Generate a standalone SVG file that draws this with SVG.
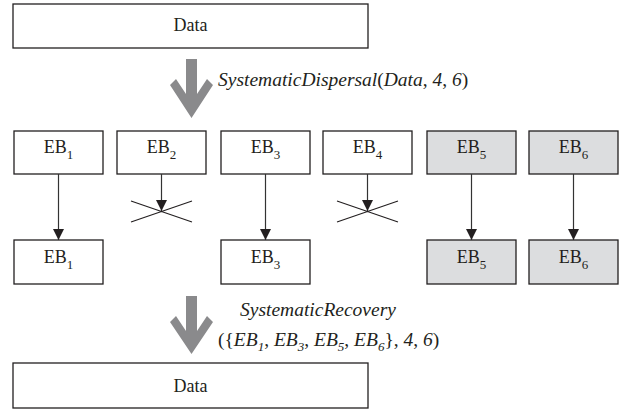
<svg xmlns="http://www.w3.org/2000/svg" width="628" height="411" viewBox="0 0 628 411">
<defs>
<style>
.box{fill:#fff;stroke:#231f20;stroke-width:1.3}
.gbox{fill:#dcdddf;stroke:#231f20;stroke-width:1.3}
text{font-family:'Liberation Serif','DejaVu Serif','Noto Serif',serif;fill:#231f20}
.t{font-size:18px;text-anchor:middle}
.lab{font-size:19.5px}
.it{font-style:italic}
.sub{font-size:13px}
.conn{stroke:#333;stroke-width:1.2;fill:none}
.x{stroke:#231f20;stroke-width:1.1;fill:none}
.big{fill:#8a8a8c}
</style>
<marker id="ah" markerUnits="userSpaceOnUse" viewBox="0 0 11 11" refX="11" refY="5.5" markerWidth="11" markerHeight="11" orient="auto">
<path d="M0,0 L11,5.5 L0,11 z" fill="#231f20"/>
</marker>
</defs>
<rect width="628" height="411" fill="#fff"/>

<g id="data-top">
<rect class="box" x="13" y="4" width="355" height="44"/>
<text class="t" x="190.5" y="31" font-family="Liberation Serif, serif">Data</text>
</g>

<g id="arrow-dispersal">
<path class="big" d="M186,59 H197 V94 L207,79 L213,85 L191.5,118 L170,85 L176,79 L186,94 Z"/>
<text class="lab" x="218" y="86" font-family="Liberation Serif, serif"><tspan class="it">SystematicDispersal</tspan>(<tspan class="it">Data</tspan>, <tspan class="it">4</tspan>, <tspan class="it">6</tspan>)</text>
</g>

<g id="eb1-top"><rect class="box" x="14" y="131" width="89" height="43"/><text class="t" x="58.5" y="152.5">EB<tspan class="sub" dy="6">1</tspan></text></g>
<g id="eb2-top"><rect class="box" x="117" y="131" width="89" height="43"/><text class="t" x="161.5" y="152.5">EB<tspan class="sub" dy="6">2</tspan></text></g>
<g id="eb3-top"><rect class="box" x="221" y="131" width="89" height="43"/><text class="t" x="265.5" y="152.5">EB<tspan class="sub" dy="6">3</tspan></text></g>
<g id="eb4-top"><rect class="box" x="323" y="131" width="89" height="43"/><text class="t" x="367.5" y="152.5">EB<tspan class="sub" dy="6">4</tspan></text></g>
<g id="eb5-top"><rect class="gbox" x="427" y="131" width="89" height="43"/><text class="t" x="471.5" y="152.5">EB<tspan class="sub" dy="6">5</tspan></text></g>
<g id="eb6-top"><rect class="gbox" x="529" y="131" width="89" height="43"/><text class="t" x="573.5" y="152.5">EB<tspan class="sub" dy="6">6</tspan></text></g>

<g id="eb1-bot"><rect class="box" x="14" y="240" width="89" height="44"/><text class="t" x="58.5" y="262.5">EB<tspan class="sub" dy="6">1</tspan></text></g>
<g id="eb3-bot"><rect class="box" x="221" y="240" width="89" height="44"/><text class="t" x="265.5" y="262.5">EB<tspan class="sub" dy="6">3</tspan></text></g>
<g id="eb5-bot"><rect class="gbox" x="427" y="240" width="89" height="44"/><text class="t" x="471.5" y="262.5">EB<tspan class="sub" dy="6">5</tspan></text></g>
<g id="eb6-bot"><rect class="gbox" x="529" y="240" width="89" height="44"/><text class="t" x="573.5" y="262.5">EB<tspan class="sub" dy="6">6</tspan></text></g>

<g id="connectors">
<path class="conn" d="M58.5,174 V240" marker-end="url(#ah)"/>
<path class="conn" d="M161.5,174 V211" marker-end="url(#ah)"/>
<path class="conn" d="M265.5,174 V240" marker-end="url(#ah)"/>
<path class="conn" d="M367.5,174 V211" marker-end="url(#ah)"/>
<path class="conn" d="M471.5,174 V240" marker-end="url(#ah)"/>
<path class="conn" d="M573.5,174 V240" marker-end="url(#ah)"/>
<path class="x" d="M131,201 L192,222 M131,222 L192,201"/>
<path class="x" d="M337,201 L398,222 M337,222 L398,201"/>
</g>

<g id="arrow-recovery">
<path class="big" d="M186,296 H197 V331 L207,316 L213,322 L191.5,354 L170,322 L176,316 L186,331 Z"/>
<text class="lab" x="240" y="316"><tspan class="it">SystematicRecovery</tspan></text>
<text class="lab" x="218" y="346">({<tspan class="it">EB</tspan><tspan class="it sub" dy="5">1</tspan><tspan dy="-5">, </tspan><tspan class="it">EB</tspan><tspan class="it sub" dy="5">3</tspan><tspan dy="-5">, </tspan><tspan class="it">EB</tspan><tspan class="it sub" dy="5">5</tspan><tspan dy="-5">, </tspan><tspan class="it">EB</tspan><tspan class="it sub" dy="5">6</tspan><tspan dy="-5">}, </tspan><tspan class="it">4</tspan>, <tspan class="it">6</tspan>)</text>
</g>

<g id="data-bot">
<rect class="box" x="13" y="363" width="355" height="45"/>
<text class="t" x="190.5" y="392">Data</text>
</g>
</svg>
